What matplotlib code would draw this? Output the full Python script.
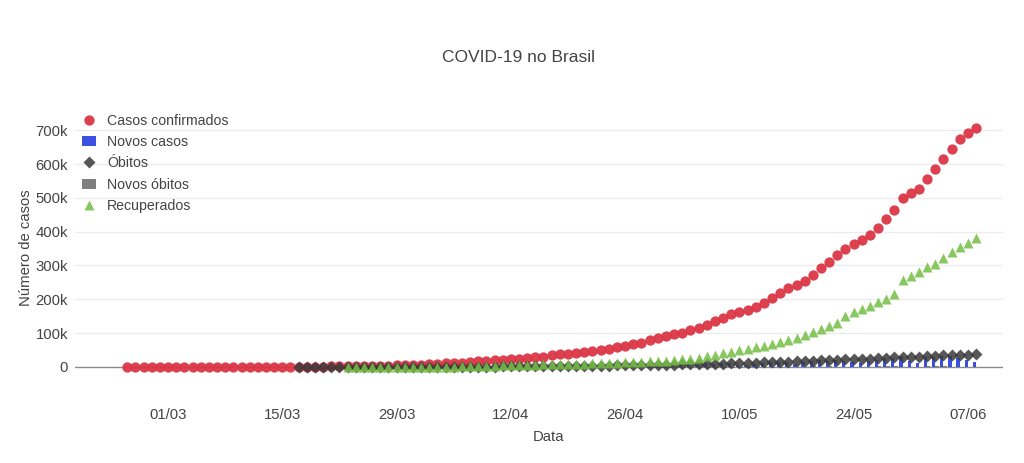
import numpy as np
import pandas as pd
import matplotlib
matplotlib.use('Agg')
import matplotlib.pyplot as plt
import matplotlib.dates as mdates

plt.rcParams['font.family'] = ['Liberation Sans', 'DejaVu Sans']

# casos confirmados acumulados, 25/02 a 08/06
datas = pd.date_range('2020-02-25', '2020-06-08', freq='D')
confirmados = [0, 1, 1, 1, 2, 2, 2, 2, 3, 8, 13, 19, 25, 25, 34, 52, 77, 98, 121, 200, 234,
               291, 428, 621, 904, 1128, 1546, 1924, 2247, 2554, 2985, 3417, 3904, 4256, 4579, 5717,
               6836, 8044, 9056, 10360, 11130, 12161, 14034, 16170, 18092, 19638, 20727, 22169, 23430,
               25262, 28320, 30425, 33682, 36599, 38654, 40581, 43079, 45757, 49492, 52995, 58509,
               61888, 66501, 71886, 78162, 85380, 91299, 96396, 101147, 107780, 114715, 125218,
               135106, 145328, 155939, 162699, 168331, 177589, 188974, 202918, 218223, 233142,
               241080, 254220, 271628, 291579, 310087, 330890, 347398, 363211, 374898, 391222,
               411821, 438238, 465166, 498440, 514849, 526447, 555383, 584016, 614941, 645771,
               672846, 691758, 707412]
novos_casos = [0, 1, 0, 0, 1, 0, 0, 0, 1, 5, 5, 6, 6, 0, 9, 18, 25, 21, 23, 79, 34,
               57, 137, 193, 283, 224, 418, 378, 323, 307, 431, 432, 487, 352, 323, 1138,
               1119, 1208, 1012, 1304, 770, 1031, 1873, 2136, 1922, 1546, 1089, 1442, 1261,
               1832, 3058, 2105, 3257, 2917, 2055, 1927, 2498, 2678, 3735, 3503, 5514,
               3379, 4613, 5385, 6276, 7218, 5919, 5097, 4751, 6633, 6935, 10503,
               9888, 10222, 10611, 6760, 5632, 9258, 11385, 13944, 15305, 14919,
               7938, 13140, 17408, 19951, 18508, 20803, 16508, 15813, 11687, 16324,
               20599, 26417, 26928, 33274, 16409, 11598, 28936, 28633, 30925, 30830,
               27075, 18912, 15654]

# obitos a partir de 17/03
datas_obitos = pd.date_range('2020-03-17', '2020-06-08', freq='D')
obitos = [1, 4, 6, 11, 18, 25, 34, 46, 59, 77, 92, 114, 136, 159, 201,
          240, 324, 359, 445, 486, 564, 686, 819, 950, 1057, 1124, 1223, 1328, 1532, 1736,
          1924, 2141, 2354, 2462, 2575, 2741, 2906, 3313, 3670, 4045, 4205, 4543, 5017, 5466, 5901,
          6329, 6750, 7025, 7321, 7921, 8536, 9146, 9897, 10627, 11123, 11519, 12400, 13149, 13993,
          14817, 15633, 16118, 16792, 17971, 18859, 20047, 21048, 22013, 22666, 23473, 24512,
          25598, 26754, 27878, 28834, 29314,
          29937, 31199, 32548, 34021, 35026, 35930, 36455, 37134]
novos_obitos = [1, 3, 2, 5, 7, 7, 9, 12, 13, 18, 15, 22, 22, 23, 42,
                39, 84, 35, 86, 41, 78, 122, 133, 131, 107, 67, 99, 105, 204, 204,
                188, 217, 213, 108, 113, 166, 165, 407, 357, 375, 160, 338, 474, 449, 435,
                428, 421, 275, 296, 600, 615, 610, 751, 730, 496, 396, 881, 749, 844,
                824, 816, 485, 674, 1179, 888, 1188, 1001, 965, 653, 807, 1039,
                1086, 1156, 1124, 956, 480,
                623, 1262, 1349, 1473, 1005, 904, 525, 679]

# recuperados a partir de 23/03
datas_recup = pd.date_range('2020-03-23', '2020-06-08', freq='D')
recuperados = [100, 100, 100, 100, 100, 100, 100, 100, 100,
               200, 300, 500, 700, 1000, 1500, 2000, 2500, 3000, 4000,
               4500, 5000, 5500, 6000, 6500, 7000, 7500, 8000, 8500, 9000,
               9500, 10000, 11000, 12000, 12500, 13000, 14000, 15000, 16000, 17000,
               18000, 20000, 22000, 24000, 26000, 31000, 36000, 41000, 45000, 49000,
               53000, 58000, 63000, 68000, 73000,
               78000, 86000, 94000, 103000, 112000, 121000, 130000, 151000, 162000, 171000,
               180000, 192000, 201000, 216000, 257000, 269000, 281000, 295000, 304000, 322000,
               340000, 354000, 366000, 381000]

yticks = [0, 100000, 200000, 300000, 400000, 500000, 600000, 700000]
ytick_labels = ['0', '100k', '200k', '300k', '400k', '500k', '600k', '700k']
xticks = pd.to_datetime(['2020-03-01', '2020-03-15', '2020-03-29', '2020-04-12',
                         '2020-04-26', '2020-05-10', '2020-05-24', '2020-06-07'])

txt = '#444444'
fig = plt.figure(figsize=(10.24, 4.63), dpi=100)
ax = fig.add_axes([75/1024, 1 - 377/463, 928/1024, 267/463])

off = pd.Timedelta(hours=4.8)
w = 0.4
ax.bar(datas - off, novos_casos, width=w, color='#3b4fe0', zorder=2, label='Novos casos')
ax.bar(datas_obitos + off, novos_obitos, width=w, color='#7f7f7f', zorder=2, label='Novos óbitos')
ax.plot(datas, confirmados, 'o', ms=7.4, color='#dc3545', alpha=0.95, mec='none',
        zorder=3, label='Casos confirmados')
ax.plot(datas_obitos, obitos, 'D', ms=6.3, color='#3a3a3a', alpha=0.85, mec='none',
        zorder=4, label='Óbitos')
ax.plot(datas_recup, recuperados, '^', ms=7.5, color='#74bf44', alpha=0.85, mec='none',
        zorder=5, label='Recuperados')

x0 = pd.Timestamp('2020-03-01')
ax.set_xlim(x0 - pd.Timedelta(days=11.4), x0 + pd.Timedelta(days=102.3))
ax.set_ylim(-30000, 760000)
ax.axhline(0, color='#8a8a8a', lw=1, zorder=1.5)
for v in yticks[1:]:
    ax.axhline(v, color='#ececec', lw=1, zorder=0)

ax.set_yticks(yticks)
ax.set_yticklabels(ytick_labels)
ax.set_xticks(xticks)
ax.xaxis.set_major_formatter(mdates.DateFormatter('%d/%m'))
ax.tick_params(length=0, labelsize=10.7, colors=txt)
ax.tick_params(axis='x', pad=22)
ax.tick_params(axis='y', pad=5)
for s in ax.spines.values():
    s.set_visible(False)

fig.text(519/1024, 1 - 57/463, 'COVID-19 no Brasil', ha='center', va='center',
         fontsize=12.5, color=txt)
fig.text(549/1024, 1 - 437/463, 'Data', ha='center', va='center', fontsize=10.7, color=txt)
fig.text(26/1024, 1 - 248/463, 'Número de casos', ha='center', va='center',
         rotation=90, fontsize=10.7, color=txt)

h, l = ax.get_legend_handles_labels()
order = ['Casos confirmados', 'Novos casos', 'Óbitos', 'Novos óbitos', 'Recuperados']
hs = [h[l.index(k)] for k in order]
leg = fig.legend(hs, order, loc='upper left', bbox_to_anchor=(79/1024, 1 - 111/463),
                 frameon=False, fontsize=10.2, labelcolor=txt, handlelength=1.0,
                 handletextpad=0.8, labelspacing=0.51, borderaxespad=0, borderpad=0.2)

fig.savefig('out.png', dpi=100)
